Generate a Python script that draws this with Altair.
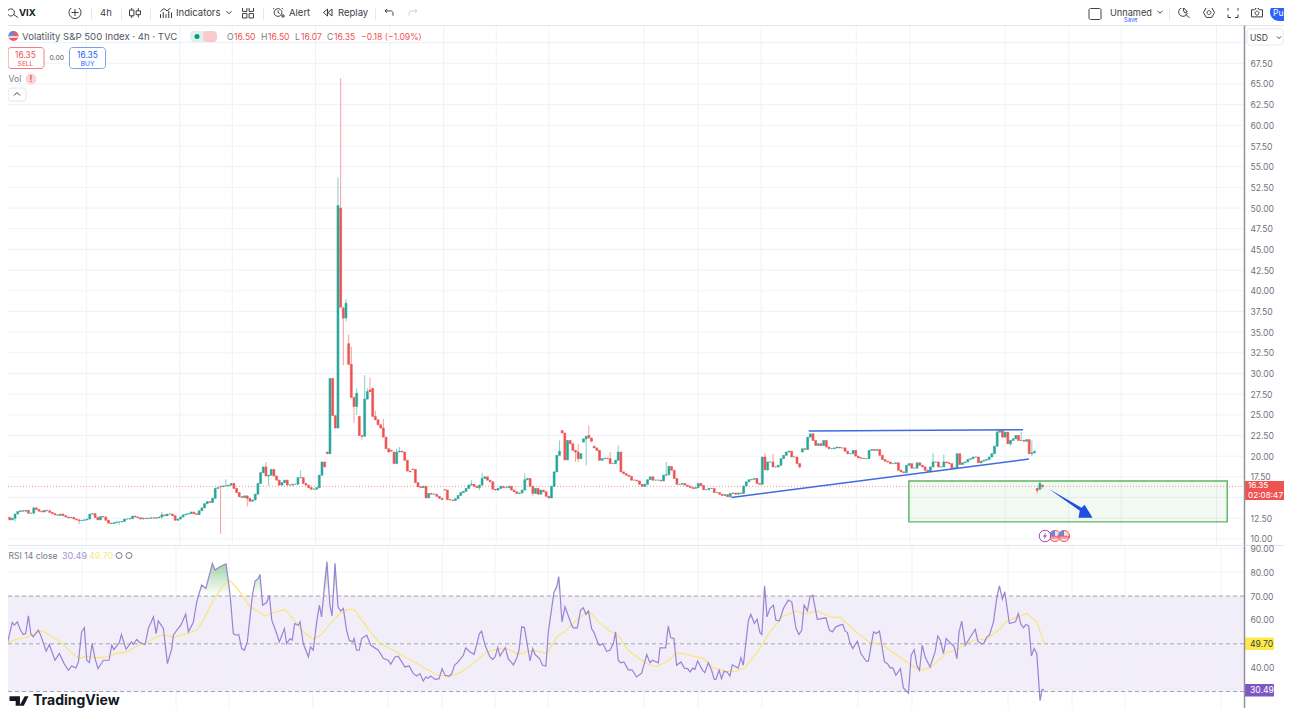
import altair as alt
import pandas as pd

FONT = "Inter"
UP, DOWN = "#26a69a", "#ef5350"
GRID = "#eef2f8"
AXIS_TXT = "#6f737f"

# ---------- candle closes, read bar by bar ----------
closes_a = [12.6,12.3,12.5,13.0,13.3,13.4,13.35,13.45,13.1,13.1,
            13.75,13.55,13.35,13.25,13.45,13.4,13.2,13.05,12.9,12.85,
            13.0,12.8,12.65,12.55,12.6,12.4,12.3,12.2,12.25,12.3,
            12.4,13.0,13.05,12.6,12.3,12.7,12.65,12.25,11.9,11.85,
            11.95,12.05,12.05,12.1,12.4,12.4,12.45,12.75,12.65,12.55,
            12.4,12.5,12.45,12.5,12.55,12.5,12.55,12.65,12.9,12.8,
            13.0,13.0,12.8,12.25,12.4,12.65,12.9,13.0,13.05,13.25,
            13.05,12.95,13.4,13.75,14.25,14.5,14.4,14.9,16.1,16.2,
            16.3,16.4,16.4,16.5,16.7,16.1,15.6,15.1,15.0,15.2,
            14.9,14.55,14.7,15.4,16.7,18.0,18.7,17.6,17.7,18.4,
            17.6,17.1,16.5,16.8,17.1,16.5,16.5,16.6,16.6,17.4,
            17.4,16.7,16.5,16.2,16.0,16.0,16.2,17.7,19.3,18.7]
closes_b = [20.3,29.4,24.9,23.4,50.3,38.0,36.7,38.5,31.1,27.1,26.0,27.6,22.5,22.4,26.9,27.8,27.8,24.8,
            24.4,23.8,23.4,22.3,20.9,20.5,20.6,19.1,20.5,20.6,20.5,19.5,18.2,18.1,18.4,16.8,16.3,16.2]
closes_c = [16.35,14.95,15.5,15.4,15.4,15.15,14.9,14.75,15.9,14.75,
            14.7,14.65,14.85,15.25,15.6,15.75,16.1,16.5,16.6,16.35,
            16.2,16.5,17.3,17.5,17.1,16.9,16.0,15.9,16.1,16.35,
            16.2,16.2,16.35,15.9,15.7,15.5,15.55,15.9,17.15,17.3,
            16.35,15.5,16.1,15.4,15.9,15.7,15.15,14.95,16.35,18.1,
            20.1,20.6,22.8,19.55,21.9,21.5,20.7,20.5,19.7,20.3,
            22.1,22.4,22.2,21.8,21.0,20.7,19.5,19.7,19.75,19.7,
            19.1,19.1,19.5,20.5,18.1,17.9,17.7,17.55,17.1,17.1,
            17.0,16.6,16.35,16.6,17.15,17.5,17.1,17.1,17.1,17.0,
            17.7,17.75,18.75,18.3,17.3,16.6,16.6,16.7,16.5,
            16.35,16.2,16.1,16.2,16.7,16.45,15.95,15.95,16.1,16.1,
            15.6,15.6,15.4,15.25,15.35,15.1,15.5,15.55,15.4]
closes_d = [15.55,15.5,16.4,16.9,17.15,17.2,17.3,16.7,16.6,19.9,
            18.35,19.3,19.3,18.7,18.7,18.9,19.7,20.1,20.5,20.6,
            19.9,19.9,19.1,18.7,20.9,20.8,22.3,22.7,21.9,21.3,
            21.5,21.3,21.9,21.1,20.9,20.9,21.0,21.1,21.0,21.0,
            20.6,20.3,20.3,20.7,20.0,19.8,19.75,19.7,19.7,20.7,
            20.8,20.7,20.8,20.1,19.6,19.4,19.3,19.1,19.1,19.2,
            18.3,18.1,18.0,18.9,19.1,18.55,18.55,19.2,18.9,18.7,
            18.3,18.15,18.7,19.3,19.3,18.7,18.7,19.3,19.2,19.1,
            18.5,18.6,20.3,19.0,19.2,19.3,19.6,19.7,19.9,19.9,19.2,
            19.4,19.5,19.6,19.9,20.3,21.2,22.9,23.1,22.3,22.9,
            21.5,21.9,22.1,22.5,21.9,21.9,21.8,22.0,20.3,20.4,20.6]
closes_e = [15.85,16.7,16.35]
closes = closes_a + closes_b + closes_c + closes_d + closes_e

open_breaks = {80:16.35,120:20.5,121:20.3,125:50.0,126:37.9,128:33.6,132:24.8,136:28.0,137:28.2,144:20.7,145:20.5,
               152:18.45,164:15.95,208:23.1,216:21.7,218:22.5,220:21.2,298:20.5,386:16.1,387:16.0,388:16.5}
high_wicks = {58:13.25,82:17.2,97:19.3,110:18.3,124:53.7,125:65.7,126:38.1,127:39.0,128:34.7,129:33.2,131:28.2,
              134:29.8,135:28.2,136:29.5,138:25.5,141:24.5,146:20.9,147:21.1,174:17.1,178:18.0,194:17.9,207:21.9,
              214:21.5,218:23.7,226:20.5,229:21.3,247:19.3,248:18.9,284:20.4,287:20.3,293:20.7,347:20.4,351:20.2,
              371:23.2,380:22.9,384:21.9,387:16.9,388:16.5}
low_wicks = {3:12.1,27:11.8,42:11.7,58:12.4,80:10.6,90:13.9,98:16.4,117:16.1,123:23.4,126:31.0,127:36.3,130:24.0,
             131:25.0,133:22.0,177:15.9,194:16.0,197:15.2,213:19.3,214:19.3,217:18.9,285:18.2,297:18.5,370:21.1,
             376:21.2,384:20.0,386:15.5,388:16.07}

# ---------- RSI line, (bar, value) ----------
rsi_bar = [-0.1,0.9,2.4,3.8,4.6,5.7,6.9,7.9,8.8,9.8,10.7,11.6,13.5,14.4,16.4,17.6,19.7,21.3,23.1,24.7,25.9,27.5,28.4,
           29.6,30.6,31.5,32.5,33.5,34.6,35.7,37.7,39.8,40.8,41.6,43.6,44.4,46.1,48.2,48.8,50.1,51.3,53.2,54.4,56.3,
           57.3,58.1,60,61.5,63.1,63.7,65,66.5,68.3,69.3,71.1,72.4,74.2,75.8,78.2,79.2,81,83.3,84.8,86,87,88,89.1,90.1,
           91.2,93.1,94.1,95.3,95.9,96.9,98.4,99.4,100.3,101.7,103.1,105,105.8,107.1,107.9,108.8,110.2,110.8,112,113.9,
           114.7,115.7,117,118,118.8,120.8,121.9,122.7,123.8,124.9,125.9,126.9,128.1,129.1,130.4,130.9,131.8,132.8,
           133.7,135.6,137.1,139.9,141.8,143.6,144.5,146.1,147.3,149.8,151.4,152.9,154.2,
           155.4,156.6,157.6,158.4,159.4,161,162.5,163.6,164.7,166.3,167.2,168.2,169.6,171.5,172.4,174,175.5,177.5,
           178.3,179.6,181.4,182.4,183.3,184.3,185.1,187.1,188.2,190.1,191.3,192.2,193.2,194.2,196.3,197.3,198.2,199.8,
           201,202.2,203.1,205.2,206.2,207,208.2,209.3,211.8,212.4,213.9,215.1,216.1,217.1,218,219.2,220.1,221.7,222.3,
           223.3,224.8,226,227.3,228.1,229.1,230,231.2,232.8,234.3,235.9,237.8,239.7,240.9,241.8,244,244.6,246.7,247.7,
           248.6,249.8,250.8,252.4,253.7,254.9,255.8,256.8,257.6,258.6,260.5,261.3,262.6,263.8,264.8,265.4,266.6,267.5,
           268.4,269.6,270.6,271.5,273.7,274.7,275.6,277.5,278.4,279.7,280.7,281.8,282.5,283.5,284.4,285.5,286.8,287.7,
           289,290.5,292.3,293.6,295.2,296.3,297.3,298.2,299.4,300.4,301.4,303.1,306.3,307.6,308.7,310,
           311.6,312.6,313.5,314.3,315.3,316.3,318,319.3,321.3,322.1,324,325,326.2,328.1,329.2,330.2,331.2,332.3,334,
           335.1,337,338,339.1,340.1,341.1,342.1,343.2,345,346.9,347.9,348.8,350,351,352.2,354,355,355.8,356.8,358.1,
           361.8,362.8,364.3,365.1,366.1,367.1,368.6,369.8,370.8,371.9,372.8,374.5,376.8,377.8,378.8,379.8,380.6,381.7,
           382.7,383.7,384.7,385.9,386.7,387.4]
rsi_val = [46.6,44.9,52.2,58.9,57.8,59.2,55.7,53.9,54.3,61.7,54.3,52.9,55.7,53.6,46.9,49.7,43.1,45.9,41.7,38.9,40.7,39.9,42.4,
           55,56.7,43.1,42.1,50.1,43.8,39.6,43.1,43.1,49.4,47.6,50.5,53.9,47.7,50.8,49.7,51.8,50.5,49.7,56.4,61.3,
           54.3,59.6,56.4,41.7,48,53.6,55.7,57.8,62.4,55,58.9,67.6,74.6,73.2,83.7,80.9,82.3,83.5,70.4,54.3,53.6,53.9,48,47.3,
           50.8,70.4,76.3,77.4,79.1,66.2,67.3,70.4,59.9,55.7,50.8,56.4,50.1,52.2,51.5,58.5,57.8,59.2,50.1,44.5,
           48.7,47.3,59.2,66.2,61.3,84.4,66.2,61.7,83.7,65.5,63.7,64.8,55.7,51.5,50.8,52.2,47.3,47.3,
           52.2,53.6,49.4,47.3,43.8,43.1,41.4,44.5,44.8,40.3,40.7,37.5,36.5,
           37.5,34.4,36.1,35.6,36.5,35.1,35.4,39.6,36.8,36.5,37.5,41,42.4,45.2,48.3,46.6,45.6,54.3,
           55.3,49.4,44.5,43.5,44.5,48.4,44.9,48.4,43.8,41.2,43.8,47.3,57.1,56.8,42.8,48,45.5,43.8,
           41,40.7,55,71.5,73.9,78.1,59.2,65.5,57.8,56.7,56.7,64.1,65.1,62.3,63.7,56.4,54.7,49.8,49.4,
           50.1,46.9,47.3,50.1,55,43.1,42,42.4,39.2,39,36.1,37.7,45.5,42.1,43.1,42,48.3,48.3,57.4,
           52.6,52.2,41,42.4,39.8,39.6,38.2,39.8,39.3,42.8,38.9,37.9,42.1,38.9,35.1,35.1,38.9,35.4,
           38.4,38.2,36.5,41.2,39.8,44.2,41,59.9,62.3,58.5,60.3,54.7,53.9,74.3,61.3,64.8,66.2,59.9,
           59.6,64.8,68.3,67.6,56.4,53.9,55.7,66.2,63.8,69.7,70.4,60.3,60.9,55.7,55,57.1,
           57.8,58.1,55.3,54.7,50.1,48,51.1,45.9,42.7,42.7,55,54.3,55.3,42.4,41.7,39.9,39.9,36.8,39.6,
           31.5,29.3,45.2,47.6,41,38.9,49.4,44.5,40.3,46.6,53.3,51.5,45.9,52.2,50.8,48.7,43.8,55,59.5,49.4,
           56.1,51.1,49.8,50.5,52.9,53.6,59.2,69,74.3,68.7,71.8,58.5,59.2,62.7,58.1,56.7,58.1,57.5,
           44.9,48,45.9,26.2,30.9,30.49]

# ---------- RSI moving average, (bar, value) ----------
ma_bar = [-0.7,1.7,5.5,8.6,11.6,14.8,17.8,21.6,25.3,28.4,31.5,35.2,38.9,42,46.4,50.1,53.8,57.5,60.6,63.7,67.4,72.4,74.8,
          78.6,82.3,84.8,87.9,92.2,97.8,100.9,105.2,109.6,112.6,115.7,118.8,121.9,125.7,128.8,131.2,135.6,140.5,146.1,
          150.4,155.4,161.6,165.9,170.3,175.2,180.2,185.1,188.2,192,195.7,199.4,202.5,206.8,208.7,213.6,218,221.7,226,
          228.5,232.8,239,242.8,247.1,250.8,253.3,260.7,264.4,269.4,273.1,276.2,281.8,285.5,290.5,295.4,298.5,302.9,
          308.4,311.6,314.1,317.2,322.8,327.1,332.7,341.1,345,347.5,351.3,354.3,361.2,366.1,371.1,373.6,381,384.7,387.6]
ma_val = [48.7,50.4,51.9,52.5,53.9,55.4,53.6,50.8,46.9,43.8,44.8,44.1,44.5,45.9,46.6,49.1,50.5,52.9,53.9,52.6,53.9,55.7,59.9,
          68.3,74.6,76.5,72.5,65.5,61.7,63.1,64.4,58.5,54.3,51.9,53.9,58.5,62.7,64.5,64.1,57.1,50.1,47,
          44.1,41,37,36.2,37.9,41.7,46.6,48,47.7,45.6,47,46.9,45.9,53.6,54.7,59.9,63.8,59.2,55.3,
          54.3,47.3,42.1,40.3,42.4,46.2,45.9,43.8,39.9,38.5,38.5,39.9,48,55,61.7,63.7,62.4,63.8,
          61,61.3,58.5,55.3,50.5,49.7,45.2,38.9,40,42.4,46.3,47.3,51.5,51.9,56.4,59.5,62.7,59.2,49.7]

# ---------- axes, grid and drawings ----------
price_grid = [10 + 2.5 * k for k in range(25)]
price_ticks = [v for v in price_grid if v not in (15, 70)]
rsi_grid = [30, 40, 50, 60, 70, 80, 90]
rsi_ticks = [40, 60, 70, 80, 90]
rsi_dashed = [70, 50, 30]
time_grid = [29.7,64.7,84.4,115.6,143.5,163.6,183.3,203,238.7,258.8,282.5,318.2,338.3,374,397.8,417.5,453.2]
trend_low = {"bar": [271.4, 382.9], "price": [15.0, 19.65]}
trend_high = {"bar": [300.4, 380.7], "price": [23.05, 23.2]}
zone = {"bar": 337.9, "bar2": 457.2, "price": 17.0, "price2": 12.05}
arrow_at = {"bar": 398.5, "price": 14.25}
last_price = 16.35

# ---------- scales ----------
X_DOM = [2.23, 476.6]
x_scale = alt.Scale(domain=X_DOM, nice=False, zero=False)
p_scale = alt.Scale(domain=[9.26, 72.13], nice=False, zero=False)
r_scale = alt.Scale(domain=[23.1, 91.4], nice=False, zero=False)
W, H_TOP, H_P, H_R = 1276, 17, 520, 163
TOP_T, TOP_P, TOP_R = 8, 25, 545
PLOT_W = 1236


def make_axis(values):
    return alt.Axis(orient="right", offset=-40, values=values, format=".2f", grid=False, ticks=False,
                    labelPadding=6, labelColor=AXIS_TXT, labelFont=FONT, labelFontSize=8.6, title=None,
                    domainColor="#8f929c", domainWidth=1.5, zindex=1, labelOverlap=False, labelFlush=False,
                    labelBound=False)


P_AX = make_axis(price_ticks)
R_AX = make_axis(rsi_ticks)


def texts(rows, top, weight="normal", align="left"):
    d = pd.DataFrame(rows, columns=["px", "py", "t", "fs", "c"])
    d["x"], d["y"] = d.px - 8, d.py - top
    return alt.Chart(d).mark_text(font=FONT, fontWeight=weight, align=align, baseline="middle", clip=True).encode(
        x=alt.X("x:Q", scale=None, axis=None), y=alt.Y("y:Q", scale=None, axis=None), text="t:N",
        size=alt.Size("fs:Q", scale=None, legend=None), color=alt.Color("c:N", scale=None, legend=None))


def boxes(rows, top, radius=0, sw=1):
    d = pd.DataFrame(rows, columns=["a", "b", "c", "d", "fill", "stroke"])
    d["x"], d["x2"], d["y"], d["y2"] = d.a - 8, d.c - 8, d.b - top, d.d - top
    return alt.Chart(d).mark_rect(cornerRadius=radius, strokeWidth=sw, clip=True).encode(
        x=alt.X("x:Q", scale=None, axis=None), x2="x2:Q", y=alt.Y("y:Q", scale=None, axis=None), y2="y2:Q",
        fill=alt.Fill("fill:N", scale=None, legend=None), stroke=alt.Stroke("stroke:N", scale=None, legend=None))


def glyphs(rows, top, sw=1.0):
    d = pd.DataFrame(rows, columns=["px", "py", "d", "s", "fill", "stroke"])
    d["x"], d["y"], d["size"] = d.px - 8, d.py - top, d.d ** 2
    return alt.Chart(d).mark_point(opacity=1, strokeWidth=sw, clip=True).encode(
        x=alt.X("x:Q", scale=None, axis=None), y=alt.Y("y:Q", scale=None, axis=None),
        shape=alt.Shape("s:N", scale=None, legend=None), size=alt.Size("size:Q", scale=None, legend=None),
        fill=alt.Fill("fill:N", scale=None, legend=None), stroke=alt.Stroke("stroke:N", scale=None, legend=None))


NONE = "transparent"
INK = "#3b3e47"
MUTE = "#787b86"
PLUS = "M-1,0L1,0M0,-1L0,1"
CHEV = "M-1,-.5L0,.5L1,-.5"
CANDLE = "M-1,-.45L-.2,-.45L-.2,.6L-1,.6ZM-.6,-1L-.6,-.45M-.6,.6L-.6,1M.2,-.3L1,-.3L1,.4L.2,.4ZM.6,-.8L.6,-.3M.6,.4L.6,.9"
GRID4 = "M-1,-1L-.2,-1L-.2,-.2L-1,-.2ZM.2,-1L1,-1L1,-.2L.2,-.2ZM-1,.2L-.2,.2L-.2,1L-1,1ZM.2,.2L1,.2L1,1L.2,1Z"
LENS = "M.2,-.2A.65,.65 0 1 1 .19,-.22ZM.05,.4L.9,1"
BARS = "M-1,1L-1,.3M-.5,1L-.5,-.1M0,1L0,.3M.5,1L.5,-.3M1,1L1,0M-1,-.2L-.4,-.7L.2,-.3L1,-1"
ALARM = "M.7,0A.7,.7 0 1 1 .69,-.12ZM0,-.4L0,0L.3,.2M-.9,-.6L-.5,-1M.9,-.6L.5,-1"
REPLAY = "M-.1,-.7L-.9,0L-.1,.7ZM.8,-.7L0,0L.8,.7Z"
UNDO = "M-.5,-.9L-1,-.4L-.5,.1M-1,-.4L.4,-.4A.6,.6 0 0 1 1,.2L1,.8"
REDO = "M.5,-.9L1,-.4L.5,.1M1,-.4L-.4,-.4A.6,.6 0 0 0 -1,.2L-1,.8"
HEX = "M-.5,-.9L.5,-.9L1,0L.5,.9L-.5,.9L-1,0ZM.35,0A.35,.35 0 1 1 .34,-.07Z"
CORNERS = "M-1,-.4L-1,-1L-.4,-1M.4,-1L1,-1L1,-.4M1,.4L1,1L.4,1M-.4,1L-1,1L-1,.4"
CAMERA = "M-1,-.5L-.4,-.5L-.2,-.85L.2,-.85L.4,-.5L1,-.5L1,.8L-1,.8ZM.35,.1A.35,.35 0 1 1 .34,.03Z"
LEAF = "M-.2,-.9A.8,.8 0 1 0 .6,.1M-.1,-.9L.6,-.1L.2,.1L-.1,-.3ZM.3,.3L1,1"
TVLOGO = "M-1,-.5L.1,-.5L.1,.5L-.35,.5L-.35,0L-1,0ZM.6,-.5L1,-.5L.5,.5L.05,.5Z"
ARROW = "M-1,-.68L.5,.18L.64,.05L1,.64L.36,.64L.42,.32Z"
FLAG_B = "M-1,0A1,1 0 0 1 0,-1L0,0Z"
FLAG_W = "M-.95,.05L.95,.05L.8,.35L-.8,.35Z"
BOLT = "M.3,-.9L-.5,.15L-.05,.15L-.3,.9L.5,-.15L.05,-.15Z"

# ---------- toolbar ----------
toolbar = alt.layer(
    boxes([(91, 8, 92, 20, "#e6e8ee", NONE), (121, 8, 122, 20, "#e6e8ee", NONE), (150, 8, 151, 20, "#e6e8ee", NONE),
           (263, 8, 264, 20, "#e6e8ee", NONE), (375, 8, 376, 20, "#e6e8ee", NONE), (1169, 8, 1170, 20, "#e6e8ee", NONE)], TOP_T),
    boxes([(1270, 3, 1300, 21, "#2962ff", NONE)], TOP_T, radius=9),
    boxes([(1089, 8.5, 1101, 19.5, NONE, "#444")], TOP_T, radius=1.5),
    glyphs([(13, 12, 11, LENS, NONE, INK), (75, 12.5, 12, "circle", NONE, INK), (75, 12.5, 7, PLUS, NONE, INK),
            (135, 12.5, 11, CANDLE, NONE, INK), (166, 12.5, 11, BARS, NONE, INK), (229, 12.5, 5, CHEV, NONE, INK),
            (248, 12.5, 11, GRID4, NONE, INK), (278, 12.5, 11, ALARM, NONE, INK), (283, 16, 4, PLUS, NONE, INK),
            (328, 12.5, 10, REPLAY, NONE, INK), (389, 12.5, 8, UNDO, NONE, INK), (413, 12.5, 8, REDO, NONE, "#ccd0d8"),
            (1160, 12, 5, CHEV, NONE, INK), (1184, 12.5, 11, LEAF, NONE, INK), (1209, 12.5, 11, HEX, NONE, INK),
            (1233, 12.5, 10, CORNERS, NONE, INK), (1257, 12.5, 11, CAMERA, NONE, INK)], TOP_T),
    texts([(100, 12.5, "4h", 9.5, INK), (176, 12.5, "Indicators", 9.5, INK), (289, 12.5, "Alert", 9.5, INK),
           (338, 12.5, "Replay", 9.5, INK), (1110, 12.5, "Unnamed", 9.2, INK), (1124, 19.8, "Save", 5.8, "#2962ff"),
           (1273, 12.5, "Pu", 8.5, "#ffffff")], TOP_T),
    texts([(19, 12.5, "VIX", 9.5, "#131722")], TOP_T, weight="bold"),
).properties(width=W, height=H_TOP)

# ---------- price pane ----------
df = pd.DataFrame({"bar": range(len(closes)), "close": closes})
df["open"] = [open_breaks.get(i, closes[i - 1] if i else 12.7) for i in range(len(closes))]
df["high"] = [high_wicks.get(i, max(o, c)) for i, (o, c) in enumerate(zip(df.open, df.close))]
df["low"] = [low_wicks.get(i, min(o, c)) for i, (o, c) in enumerate(zip(df.open, df.close))]
df["dir"] = ["up" if c >= o else "down" for o, c in zip(df.open, df.close)]
dir_scale = alt.Scale(domain=["up", "down"], range=[UP, DOWN])
X = alt.X("bar:Q", scale=x_scale, axis=None)
P = alt.Y("price:Q", scale=p_scale, axis=P_AX)

pg = alt.Chart(pd.DataFrame({"price": price_grid})).mark_rule(color=GRID, strokeWidth=1, clip=True).encode(
    y=P, x=alt.value(0), x2=alt.value(PLOT_W))
vg = alt.Chart(pd.DataFrame({"bar": time_grid})).mark_rule(color=GRID, strokeWidth=1, clip=True).encode(
    x=X, y=alt.value(0), y2=alt.value(H_P))
zone_fill = alt.Chart(pd.DataFrame([zone])).mark_rect(fill="#4caf50", fillOpacity=0.07, stroke="#5cb562", strokeWidth=1.4).encode(
    x=X, x2="bar2:Q", y=P, y2="price2:Q")
last_line = alt.Chart(pd.DataFrame({"price": [last_price]})).mark_rule(
    color=DOWN, strokeDash=[1, 2], strokeWidth=1, opacity=0.6, clip=True).encode(y=P, x=alt.value(0), x2=alt.value(PLOT_W))
wicks = alt.Chart(df).mark_rule(strokeWidth=1, opacity=0.55, clip=True).encode(
    x=X, y=alt.Y("low:Q", scale=p_scale, axis=P_AX), y2="high:Q",
    color=alt.Color("dir:N", scale=dir_scale, legend=None))
bodies = alt.Chart(df).mark_bar(size=1.9, strokeWidth=0.6, clip=True).encode(
    x=X, y=alt.Y("open:Q", scale=p_scale, axis=P_AX), y2="close:Q",
    color=alt.Color("dir:N", scale=dir_scale, legend=None),
    stroke=alt.Stroke("dir:N", scale=dir_scale, legend=None))
line_low = alt.Chart(pd.DataFrame(trend_low)).mark_line(color="#3f6ae0", strokeWidth=1.6).encode(x=X, y=P)
line_high = alt.Chart(pd.DataFrame(trend_high)).mark_line(color="#3f6ae0", strokeWidth=1.6).encode(x=X, y=P)
arrow = alt.Chart(pd.DataFrame([arrow_at])).mark_point(shape=ARROW, size=1936, filled=True, opacity=1, fill="#1f4fe0", strokeWidth=0).encode(x=X, y=P)

price_pane = alt.layer(
    pg, vg, zone_fill, last_line, wicks, bodies, line_low, line_high, arrow,
    boxes([(0, 23.5, 1292, 26, "#e3e6ed", NONE)], TOP_P),
    boxes([(190, 31, 217, 42, "#dff1ec", NONE), (203, 31, 217, 42, "#f9c9cc", NONE)], TOP_P, radius=4),
    boxes([(8, 47.5, 44, 68.5, "#ffffff", "#f77c80"), (69.5, 47.5, 105.5, 68.5, "#ffffff", "#7d9cf5"),
           (8, 88, 26, 101, "#ffffff", "#e0e3eb"), (1247, 29, 1283, 45, "#ffffff", "#e8eaf0")], TOP_P, radius=3),
    boxes([(1244.5, 481, 1287, 500, DOWN, NONE)], TOP_P, radius=1),
    glyphs([(13.5, 36, 10, "circle", "#ee5a62", NONE), (13.5, 36, 10, FLAG_B, "#5b8dee", NONE), (13.5, 36, 10, FLAG_W, "#ffffff", NONE),
            (197, 36.5, 5, "circle", "#089981", NONE),
            (31, 79, 11, "circle", "#fbd5d7", NONE),
            (17, 94, 6, "M-1,.5L0,-.5L1,.5", NONE, INK), (1279, 37.5, 4, CHEV, NONE, INK),
            (1055, 536, 11, "circle", "#fde0e1", "#ef5350"), (1055, 536, 11, FLAG_B, "#5b8dee", NONE), (1055, 536, 11, FLAG_W, "#ffffff", "#ef5350"),
            (1064, 536, 11, "circle", "#fde0e1", "#ef5350"), (1064, 536, 11, FLAG_B, "#5b8dee", NONE), (1064, 536, 11, FLAG_W, "#ffffff", "#ef5350"),
            (1045, 536, 11.5, "circle", "#ffffff", "#ab47bc"), (1045, 536, 8, BOLT, "#ab47bc", NONE)], TOP_P),
    texts([(22, 36.5, "Volatility S&P 500 Index · 4h · TVC", 9.6, "#555862"),
           (227, 36.5, "O", 8.6, MUTE), (234, 36.5, "16.50", 8.6, DOWN), (261, 36.5, "H", 8.6, MUTE), (268, 36.5, "16.50", 8.6, DOWN),
           (295, 36.5, "L", 8.6, MUTE), (301, 36.5, "16.07", 8.6, DOWN), (327, 36.5, "C", 8.6, MUTE), (334, 36.5, "16.35", 8.6, DOWN),
           (361, 36.5, "−0.18 (−1.09%)", 8.6, DOWN),
           (49.5, 58, "0.00", 6.8, "#555862"), (8.5, 79, "Vol", 8.6, MUTE), (1250, 37.5, "USD", 8.5, "#3b3e47"),
           (1248, 486, "16.35", 8.2, "#ffffff"), (1248, 495.5, "02:08:47", 8.2, "#ffffff")], TOP_P),
    texts([(25.5, 55, "16.35", 8.4, DOWN), (87.5, 55, "16.35", 8.4, "#2962ff"),
           (25.5, 63.5, "SELL", 6.6, DOWN), (87.5, 63.5, "BUY", 6.6, "#2962ff")], TOP_P, align="center"),
    texts([(31, 79, "!", 8.5, DOWN)], TOP_P, weight="bold", align="center"),
).properties(width=W, height=H_P)

# ---------- RSI pane ----------
rsi = pd.DataFrame({"bar": rsi_bar, "rsi": rsi_val})
rsi["top"] = rsi.rsi.clip(lower=70)
rsi["base"] = 70
ma = pd.DataFrame({"bar": ma_bar, "ma": ma_val})
R = alt.Y("rsi:Q", scale=r_scale, axis=R_AX)

band = alt.Chart(pd.DataFrame({"rsi": [70], "rsi2": [30]})).mark_rect(fill="#7e57c2", fillOpacity=0.1, clip=True).encode(
    y=R, y2="rsi2:Q", x=alt.value(0), x2=alt.value(PLOT_W))
rg = alt.Chart(pd.DataFrame({"rsi": rsi_grid})).mark_rule(color=GRID, strokeWidth=1, clip=True).encode(
    y=R, x=alt.value(0), x2=alt.value(PLOT_W))
rv = alt.Chart(pd.DataFrame({"bar": time_grid})).mark_rule(color=GRID, strokeWidth=1, clip=True).encode(
    x=X, y=alt.value(0), y2=alt.value(H_R))
over = alt.Chart(rsi).mark_area(clip=True, line=False, color=alt.Gradient(
    gradient="linear", x1=0, x2=0, y1=0, y2=1,
    stops=[alt.GradientStop(color="rgba(76,175,80,0.55)", offset=0), alt.GradientStop(color="rgba(76,175,80,0)", offset=1)])).encode(
    x=X, y=alt.Y("top:Q", scale=r_scale, axis=R_AX), y2="base:Q")
dashes = alt.Chart(pd.DataFrame({"rsi": rsi_dashed})).mark_rule(color="#787b86", strokeDash=[4, 3], strokeWidth=1, opacity=0.65, clip=True).encode(
    y=R, x=alt.value(0), x2=alt.value(PLOT_W))
ma_line = alt.Chart(ma).mark_line(color="#fbe46f", strokeWidth=1.1, clip=True).encode(
    x=X, y=alt.Y("ma:Q", scale=r_scale, axis=R_AX))
rsi_line = alt.Chart(rsi).mark_line(color="#9b82d4", strokeWidth=1.2, clip=True).encode(x=X, y=R)

rsi_pane = alt.layer(
    band, rg, rv, over, dashes, ma_line, rsi_line,
    boxes([(0, 545, 1292, 546, "#e3e6ed", NONE)], TOP_R),
    boxes([(1244.5, 637.5, 1274, 650, "#fdeb4a", NONE), (1244.5, 684, 1274, 696.5, "#7e57c2", NONE)], TOP_R, radius=1),
    glyphs([(19, 701, 19, TVLOGO, "#131722", NONE), (119, 555.5, 6, "circle", NONE, MUTE), (129, 555.5, 6, "circle", NONE, MUTE)], TOP_R),
    texts([(8.5, 555.5, "RSI 14 close", 8.6, MUTE), (62, 555.5, "30.49", 9, "#a48fdc"), (89, 555.5, "49.70", 9, "#f8e88a"),
           (1250, 644, "49.70", 8.6, "#3b3e47"), (1250, 690, "30.49", 8.6, "#ffffff")], TOP_R),
    texts([(33, 701, "TradingView", 14, "#131722")], TOP_R, weight="bold"),
).properties(width=W, height=H_R)

chart = alt.vconcat(toolbar, price_pane, rsi_pane, spacing=0, bounds="flush").resolve_scale(
    x="independent", y="independent", color="independent", size="independent", fill="independent",
    stroke="independent", shape="independent"
).properties(padding=0, background="#ffffff").configure_view(strokeWidth=0)

chart.save("out.html", embed_options={"renderer": "svg", "actions": False})
